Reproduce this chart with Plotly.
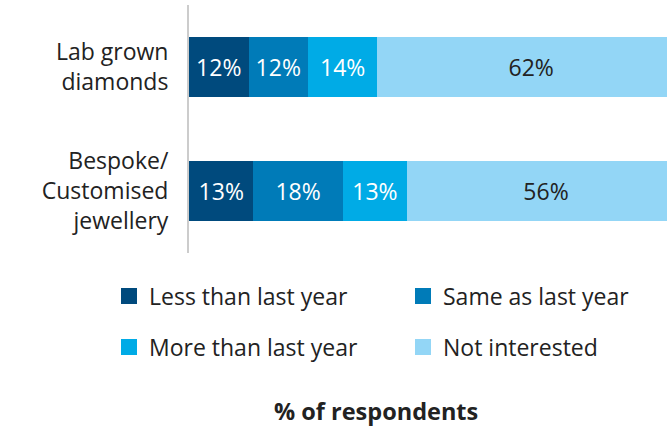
import plotly.graph_objects as go

# Survey categories (top to bottom) and response shares in percent
categories = ["Lab grown<br>diamonds", "Bespoke/<br>Customised<br>jewellery"]
series_names = ["Less than last year", "Same as last year", "More than last year", "Not interested"]
less_than = [12, 13]
same_as = [12, 18]
more_than = [14, 13]
not_interested = [62, 56]

series_values = [less_than, same_as, more_than, not_interested]
colors = ["#004A7D", "#007BB8", "#00ABE6", "#93D6F6"]
label_colors = ["#FFFFFF", "#FFFFFF", "#FFFFFF", "#222222"]

FONT = "Open Sans"
FS = 23
W, H = 667, 427
M_L, M_T, M_B = 189, 5, 174
PLOT_W = W - M_L
PLOT_H = H - M_T - M_B

fig = go.Figure()

for name, vals, col, lc in zip(series_names, series_values, colors, label_colors):
    fig.add_trace(go.Bar(
        name=name,
        x=vals,
        y=categories,
        orientation="h",
        width=0.49,
        marker=dict(color=col, line=dict(width=0)),
        texttemplate="%{x}%",
        textposition="inside",
        insidetextanchor="middle",
        textangle=0,
        textfont=dict(family=FONT, size=FS, color=lc),
        showlegend=False,
        hoverinfo="skip",
    ))

# Legend keys laid out as a 2x2 grid, one legend box per entry
legend_ids = ["legend", "legend2", "legend3", "legend4"]
legend_x = [109, 403, 109, 403]
legend_y = [296, 296, 347, 347]

for name, col, lg in zip(series_names, colors, legend_ids):
    fig.add_trace(go.Scatter(
        name=name,
        x=[None],
        y=[None],
        mode="markers",
        marker=dict(symbol="square", size=16, color=col),
        legend=lg,
        showlegend=True,
        hoverinfo="skip",
    ))

legend_layout = {}
for lg, lx, ly in zip(legend_ids, legend_x, legend_y):
    legend_layout[lg] = dict(
        orientation="h",
        xref="container",
        yref="container",
        xanchor="left",
        yanchor="middle",
        x=lx / W,
        y=1 - ly / H,
        font=dict(family=FONT, size=FS, color="#222222"),
        bgcolor="rgba(0,0,0,0)",
        borderwidth=0,
        itemclick=False,
        itemdoubleclick=False,
    )

fig.update_layout(
    width=W,
    height=H,
    margin=dict(l=M_L, r=0, t=M_T, b=M_B),
    paper_bgcolor="white",
    plot_bgcolor="white",
    barmode="stack",
    font=dict(family=FONT, size=FS, color="#222222"),
    **legend_layout,
    xaxis=dict(
        range=[0, 96.4],
        visible=False,
        fixedrange=True,
    ),
    yaxis=dict(
        autorange="reversed",
        showline=True,
        linecolor="#CCCCCC",
        linewidth=2,
        showgrid=False,
        zeroline=False,
        ticks="",
        ticklabelstandoff=14,
        tickfont=dict(family=FONT, size=FS, color="#222222"),
        fixedrange=True,
    ),
    annotations=[dict(
        text="<b>% of respondents</b>",
        xref="paper",
        yref="paper",
        x=(375.5 - M_L) / PLOT_W,
        y=-(411 - (H - M_B)) / PLOT_H,
        xanchor="center",
        yanchor="middle",
        showarrow=False,
        font=dict(family=FONT, size=23.5, color="#222222"),
    )],
)

fig.write_html("out.html")
